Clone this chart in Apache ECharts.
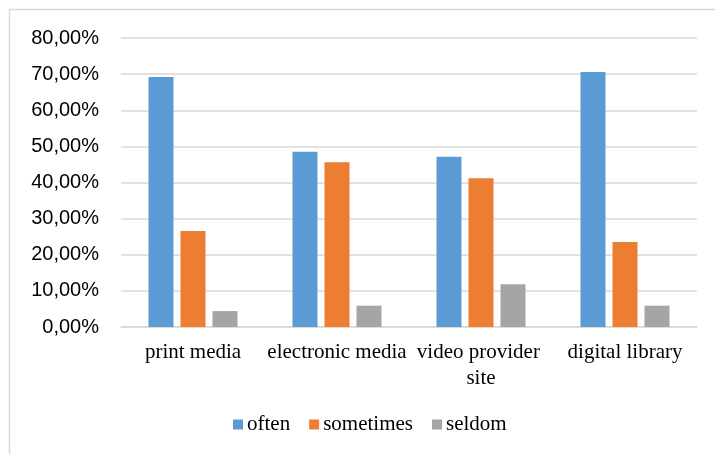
<!DOCTYPE html>
<html>
<head>
<meta charset="utf-8">
<script src="https://cdn.jsdelivr.net/npm/echarts@6/dist/echarts.min.js"></script>
<style>
  html, body { margin: 0; padding: 0; background: #ffffff; }
  #chart { width: 715px; height: 454px; }
</style>
</head>
<body>
<div id="chart"></div>
<script>
// Media usage frequency by source type (percent of respondents)
const categories = ['print media', 'electronic media', 'video provider site', 'digital library'];
const often = [69.2, 48.5, 47.1, 70.6];
const sometimes = [26.6, 45.6, 41.2, 23.5];
const seldom = [4.4, 5.9, 11.8, 5.9];
const yTicks = [0, 10, 20, 30, 40, 50, 60, 70, 80];

const serif = '"Liberation Serif", "Times New Roman", serif';
const sans = '"Liberation Sans", Arial, sans-serif';
const gridColor = '#d9d9d9';

function pct(v) {
  return v.toFixed(2).replace('.', ',') + '%';
}

const chart = echarts.init(document.getElementById('chart'), null, { renderer: 'canvas' });

function barSeries(name, data, color) {
  return {
    name: name,
    type: 'bar',
    data: data,
    barWidth: 25,
    barGap: '28%',
    itemStyle: { color: color },
    emphasis: { disabled: true }
  };
}

chart.setOption({
  animation: false,
  backgroundColor: '#ffffff',
  grid: { left: 121, right: 18, top: 38, bottom: 127, containLabel: false },
  legend: {
    left: 228,
    top: 409,
    itemWidth: 10,
    itemHeight: 10,
    itemGap: 19,
    icon: 'rect',
    textStyle: { fontFamily: serif, fontSize: 21, color: '#000000', padding: [0, 0, 0, -1] },
    data: ['often', 'sometimes', 'seldom']
  },
  xAxis: {
    type: 'category',
    data: categories,
    axisLine: { show: true, lineStyle: { color: gridColor, width: 1.5 } },
    axisTick: { show: false },
    axisLabel: {
      interval: 0,
      margin: 12,
      width: 144,
      overflow: 'break',
      lineHeight: 26,
      fontFamily: serif,
      fontSize: 21,
      color: '#000000'
    }
  },
  yAxis: {
    type: 'value',
    min: yTicks[0],
    max: yTicks[yTicks.length - 1],
    interval: 10,
    axisLine: { show: false },
    axisTick: { show: false },
    splitLine: { lineStyle: { color: gridColor, width: 1.5 } },
    axisLabel: {
      margin: 22,
      fontFamily: sans,
      fontSize: 20,
      color: '#000000',
      formatter: pct
    }
  },
  series: [
    barSeries('often', often, '#5b9bd5'),
    barSeries('sometimes', sometimes, '#ed7d31'),
    barSeries('seldom', seldom, '#a5a5a5')
  ],
  graphic: [
    {
      type: 'line',
      shape: { x1: 9, y1: 9.5, x2: 715, y2: 9.5 },
      style: { stroke: gridColor, lineWidth: 1.5 },
      silent: true
    },
    {
      type: 'line',
      shape: { x1: 9.5, y1: 9, x2: 9.5, y2: 454 },
      style: { stroke: gridColor, lineWidth: 1.5 },
      silent: true
    }
  ]
});
</script>
</body>
</html>
